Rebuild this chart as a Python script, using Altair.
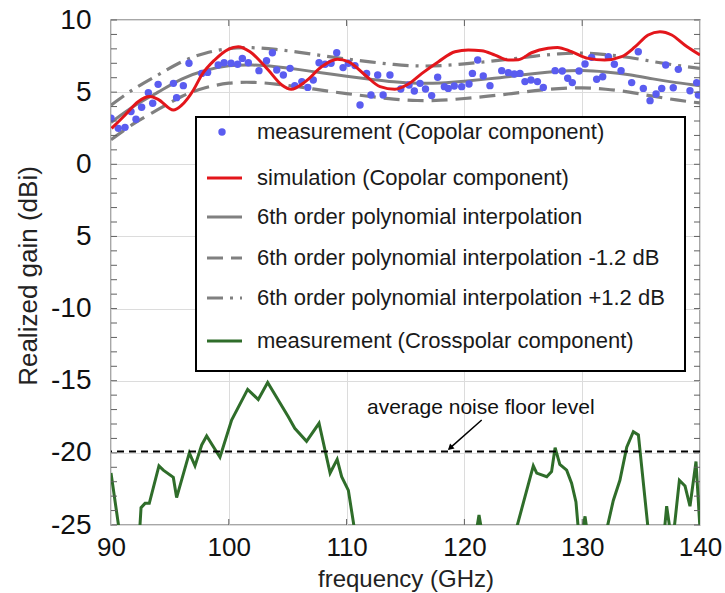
import altair as alt
import pandas as pd

# ---- measured copolar gain (frequency in GHz, gain in dBi)
meas_freq = [90.0, 90.62, 91.19, 91.7, 92.12, 92.6, 93.17, 93.54, 94.0, 95.3,
             95.57, 96.14, 96.62, 97.7, 98.2, 99.1, 99.6, 100.19, 100.75, 101.15,
             101.66, 102.56, 103.2, 103.7, 104.07, 104.63, 105.2, 105.6, 106.2, 106.7,
             107.17, 107.66, 108.17, 108.68, 109.16, 109.7, 110.15, 110.71, 111.14, 111.7,
             112.07, 112.64, 113.1, 113.68, 114.6, 115.3, 115.75, 116.23, 116.7, 117.22,
             117.73, 118.3, 118.63, 119.14, 119.77, 120.39, 120.68, 121.13, 121.6, 122.17,
             123.17, 123.73, 124.24, 124.72, 125.14, 125.65, 126.2, 126.7, 127.7, 128.31,
             128.77, 129.16, 129.73, 130.24, 130.8, 131.23, 131.74, 132.22, 132.73, 133.3,
             134.2, 134.76, 135.19, 135.76, 136.27, 136.75, 137.09, 137.73, 138.16, 139.15,
             139.72, 139.86]
meas_gain = [3.19, 2.49, 2.56, 3.65, 3.12, 3.95, 4.96, 4.23, 5.54, 5.61,
             4.62, 5.45, 7.0, 6.3, 6.37, 6.88, 7.04, 7.0, 6.93, 7.34,
             7.04, 6.49, 7.18, 7.73, 6.53, 6.19, 6.65, 5.45, 5.73, 5.33,
             5.84, 7.04, 6.93, 7.0, 7.73, 6.7, 7.0, 6.84, 4.11, 6.3,
             4.8, 6.19, 4.8, 6.19, 5.22, 5.5, 5.08, 5.61, 5.22, 4.76,
             6.03, 5.38, 5.26, 5.43, 5.38, 5.56, 6.3, 7.23, 6.12, 5.45,
             6.49, 6.35, 6.26, 6.3, 5.73, 5.84, 5.73, 5.33, 6.49, 6.47,
             5.96, 5.66, 6.47, 6.95, 7.41, 5.89, 6.07, 7.46, 6.93, 6.49,
             5.66, 7.8, 5.26, 4.41, 4.87, 5.26, 6.88, 5.31, 6.58, 5.1,
             5.66, 4.8]

# ---- simulated copolar gain
sim_freq = [90.05, 91.2, 92.3, 93.3, 94.0, 95.3, 96.0, 97.0, 97.7, 98.8,
            99.96, 100.8, 101.8, 103.35, 104.5, 105.3, 106.5, 107.9, 109.2, 110.15,
            111.56, 112.84, 114.1, 115.24, 116.4, 117.8, 119.2, 120.33, 121.47, 122.6,
            123.7, 124.58, 125.7, 127.1, 127.9, 129.1, 130.5, 131.9, 133.35, 134.5,
            135.6, 136.6, 137.6, 138.7, 140.0]
sim_gain = [2.49, 3.42, 4.34, 4.69, 4.5, 3.76, 4.1, 5.15, 6.19, 7.23,
            7.97, 8.15, 7.8, 6.53, 5.5, 5.2, 5.73, 6.77, 7.28, 7.11,
            6.19, 5.38, 5.2, 5.56, 6.3, 7.11, 7.8, 7.92, 7.87, 7.57,
            7.23, 7.25, 7.73, 8.04, 8.1, 7.8, 7.34, 7.23, 7.46, 8.15,
            8.96, 9.19, 8.96, 8.27, 7.57]

# ---- 6th order polynomial fit of the measurement
poly_freq = [90, 92, 94, 96, 98, 100, 102, 104, 106, 108, 110, 112, 114,
             116, 118, 120, 122, 124, 126, 128, 130, 132, 134, 136, 138, 140]
poly_gain = [2.9, 4.05, 5.0, 5.9, 6.5, 6.82, 6.88, 6.76, 6.56, 6.32, 6.1, 5.9, 5.72,
             5.62, 5.64, 5.76, 5.92, 6.1, 6.3, 6.45, 6.5, 6.4, 6.2, 5.92, 5.66, 5.45]
poly_margin = 1.2

# ---- measured crosspolar gain
cross_freq = [90.0, 90.9, 92.35, 92.55, 92.89, 93.25, 94.07, 94.44, 95.29, 95.57,
              96.65, 97.13, 97.7, 98.12, 99.25, 100.24, 101.6, 102.5, 103.3, 105.05,
              105.6, 106.6, 107.66, 108.6, 109.2, 109.58, 110.15, 110.9, 120.8, 121.24,
              121.7, 124.0, 125.85, 126.14, 126.99, 127.4, 127.7, 128.1, 128.68, 129.1,
              129.47, 129.8, 130.24, 130.6, 131.75, 132.64, 133.2, 133.78, 134.34, 134.77,
              135.75, 136.85, 137.17, 137.45, 137.8, 138.25, 138.73, 139.15, 139.66, 140.0]
cross_gain = [-21.4, -26.5, -26.5, -23.8, -23.5, -23.5, -20.9, -21.2, -21.7, -23.1,
              -20.0, -20.9, -19.45, -18.83, -20.3, -17.72, -15.6, -16.3, -15.13, -17.5,
              -18.3, -19.2, -17.95, -21.4, -20.45, -21.65, -22.6, -26.5, -26.5, -24.3,
              -26.5, -26.5, -20.9, -21.4, -21.65, -21.3, -19.64, -20.8, -21.2, -22.1,
              -23.4, -26.5, -24.4, -26.5, -26.5, -23.3, -21.9, -19.6, -18.53, -18.76,
              -26.5, -26.5, -23.7, -25.3, -25.3, -21.9, -22.3, -23.7, -20.6, -25.3]

noise_floor = -19.9

x_major = [90, 100, 110, 120, 130, 140]
x_inner = [100, 110, 120, 130]
y_major = [-25, -20, -15, -10, -5, 0, 5, 10]
y_minor = list(range(-25, 11))

legend_labels = [
    "measurement (Copolar component)",
    "simulation (Copolar component)",
    "6th order polynomial interpolation",
    "6th order polynomial interpolation -1.2 dB",
    "6th order polynomial interpolation +1.2 dB",
    "measurement (Crosspolar component)",
]

# ---- styling
FONT = "Liberation Sans"
BLUE = "#5a5cf0"
RED = "#e3161b"
GRAY = "#808080"
GREEN = "#2f6d2a"
TICK = "#606060"
DASH = [16, 8]
DASHDOT = [16, 7, 3, 7]
W, H = 589, 505

xs = alt.Scale(domain=[90, 140], nice=False, zero=False)
ys = alt.Scale(domain=[-25, 10], nice=False, zero=False)

x_axis = alt.Axis(values=x_major, grid=True, gridColor="#dcdcdc", gridWidth=1,
                  ticks=False, tickSize=0, domain=False, labelFont=FONT,
                  labelFontSize=26, labelColor="#111", labelPadding=9,
                  labelFlush=False, labelOverlap=False,
                  title="frequency (GHz)", titleFont=FONT, titleFontSize=24,
                  titleFontWeight="normal", titleColor="#222",
                  titleX=W / 2, titleY=54, titleBaseline="middle")
y_axis = alt.Axis(values=y_major, grid=True, gridColor="#dcdcdc", gridWidth=1,
                  ticks=False, tickSize=0, domain=False, labelFont=FONT,
                  labelFontSize=28, labelColor="#111", labelPadding=20,
                  labelFlush=False, labelOverlap=False,
                  labelExpr="datum.value == -5 ? '5' : toString(datum.value)",
                  title="Realized gain (dBi)", titleFont=FONT, titleFontSize=26,
                  titleFontWeight="normal", titleColor="#222",
                  titleX=-83, titleY=H / 2 + 3, titleAngle=270,
                  titleBaseline="middle", titleAlign="center")


def X(field):
    return alt.X(field, type="quantitative", scale=xs, axis=x_axis)


def Y(field):
    return alt.Y(field, type="quantitative", scale=ys, axis=y_axis)


meas_df = pd.DataFrame({"f": meas_freq, "g": meas_gain})
sim_df = pd.DataFrame({"f": sim_freq, "g": sim_gain})
poly_df = pd.DataFrame({"f": poly_freq, "g": poly_gain})
cross_df = pd.DataFrame({"f": cross_freq, "g": cross_gain})
one = pd.DataFrame({"k": [0]})

poly = alt.Chart(poly_df).mark_line(color=GRAY, strokeWidth=3, interpolate="natural",
                                    clip=True).encode(x=X("f"), y=Y("g"))
poly_lo = (alt.Chart(poly_df)
           .transform_calculate(lo=f"datum.g - {poly_margin}")
           .mark_line(color=GRAY, strokeWidth=3.2, strokeDash=DASH,
                      interpolate="natural", clip=True)
           .encode(x=X("f"), y=Y("lo")))
poly_hi = (alt.Chart(poly_df)
           .transform_calculate(hi=f"datum.g + {poly_margin}")
           .mark_line(color=GRAY, strokeWidth=3.2, strokeDash=DASHDOT,
                      interpolate="natural", clip=True)
           .encode(x=X("f"), y=Y("hi")))
meas = alt.Chart(meas_df).mark_circle(color=BLUE, size=55, opacity=1,
                                      clip=True).encode(x=X("f"), y=Y("g"))
sim = alt.Chart(sim_df).mark_line(color=RED, strokeWidth=3, interpolate="monotone",
                                  clip=True).encode(x=X("f"), y=Y("g"))
cross = alt.Chart(cross_df).mark_line(color=GREEN, strokeWidth=3,
                                      clip=True).encode(x=X("f"), y=Y("g"))

noise = alt.Chart(one).mark_rule(color="black", strokeWidth=2, strokeDash=[7, 5]).encode(
    y=alt.datum(noise_floor, scale=ys))
noise_text = alt.Chart(one).mark_text(
    text="average noise floor level", align="left", baseline="middle",
    font=FONT, fontSize=21, color="#111").encode(
    x=alt.datum(111.73, scale=xs), y=alt.datum(-16.9, scale=ys))
arrow = alt.Chart(one).mark_rule(color="black", strokeWidth=1.5).encode(
    x=alt.datum(121.47, scale=xs), y=alt.datum(-17.72, scale=ys),
    x2=alt.datum(118.7), y2=alt.datum(-19.72))
arrow_head = alt.Chart(one).mark_point(
    shape="triangle", filled=True, color="black", size=45, angle=228.5, opacity=1).encode(
    x=alt.datum(118.85, scale=xs), y=alt.datum(-19.62, scale=ys))

# inward tick marks around the frame
tick_df_y = pd.DataFrame({"v": y_minor})
tick_df_x = pd.DataFrame({"v": x_inner})
ticks_left = alt.Chart(tick_df_y).mark_rule(color=TICK, strokeWidth=1).encode(
    y=alt.Y("v:Q", scale=ys), x=alt.value(0), x2=alt.value(6))
ticks_right = alt.Chart(tick_df_y).mark_rule(color=TICK, strokeWidth=1).encode(
    y=alt.Y("v:Q", scale=ys), x=alt.value(W - 6), x2=alt.value(W))
ticks_top = alt.Chart(tick_df_x).mark_rule(color=TICK, strokeWidth=1).encode(
    x=alt.X("v:Q", scale=xs), y=alt.value(0), y2=alt.value(6))
ticks_bottom = alt.Chart(tick_df_x).mark_rule(color=TICK, strokeWidth=1).encode(
    x=alt.X("v:Q", scale=xs), y=alt.value(H - 6), y2=alt.value(H))

# legend box drawn inside the plot
LEG_L, LEG_R, LEG_T, LEG_B = 85, 574, 97, 351
row_y = [112, 158, 197, 238, 278, 321]
sym_x0, sym_x1, dot_x, text_x = 96, 131, 111, 146

legend_layers = [
    alt.Chart(one).mark_rect(fill="white", stroke="black", strokeWidth=2).encode(
        x=alt.value(LEG_L), x2=alt.value(LEG_R), y=alt.value(LEG_T), y2=alt.value(LEG_B))
]
sym_styles = [
    None,
    dict(color=RED, strokeWidth=3),
    dict(color=GRAY, strokeWidth=3),
    dict(color=GRAY, strokeWidth=3.2, strokeDash=DASH),
    dict(color=GRAY, strokeWidth=3.2, strokeDash=DASHDOT),
    dict(color=GREEN, strokeWidth=3),
]
label_df = pd.DataFrame({"label": legend_labels})
for label, yy, style in zip(legend_labels, row_y, sym_styles):
    if style is None:
        legend_layers.append(alt.Chart(one).mark_circle(color=BLUE, size=55, opacity=1).encode(
            x=alt.value(dot_x), y=alt.value(yy)))
    else:
        legend_layers.append(alt.Chart(one).mark_rule(**style).encode(
            x=alt.value(sym_x0), x2=alt.value(sym_x1), y=alt.value(yy)))
    legend_layers.append(
        alt.Chart(label_df).transform_filter(alt.datum.label == label)
        .mark_text(align="left", baseline="middle", font=FONT, fontSize=22, color="#1a1a1a")
        .encode(x=alt.value(text_x), y=alt.value(yy), text="label:N"))

chart = alt.layer(
    poly, poly_lo, poly_hi, meas, sim, cross, noise, noise_text, arrow, arrow_head,
    ticks_left, ticks_right, ticks_top, ticks_bottom, *legend_layers
).properties(
    width=W, height=H,
    padding={"left": 111, "top": 20, "right": 25, "bottom": 68},
    autosize=alt.AutoSizeParams(type="none"),
    background="white",
).configure_view(stroke="#8a8a8a", strokeWidth=1.5)

chart.save("out.html", embed_options={"renderer": "svg", "actions": False})
